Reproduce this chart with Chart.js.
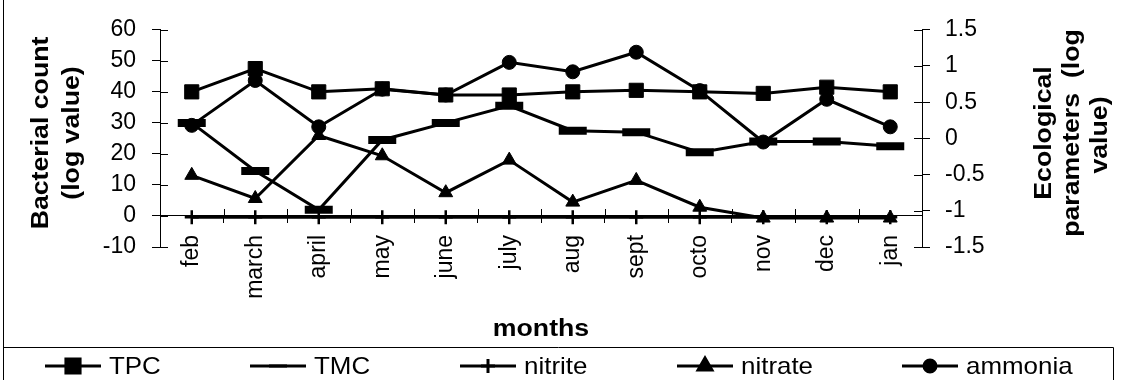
<!DOCTYPE html>
<html>
<head>
<meta charset="utf-8">
<script src="https://cdn.jsdelivr.net/npm/chart.js@4/dist/chart.umd.min.js"></script>
<style>
  body { margin: 0; background: #fff; }
  #wrap { width: 1122px; height: 380px; position: relative; }
</style>
</head>
<body>
<div id="wrap"><canvas id="chart"></canvas></div>
<script>
// months on the category axis
const months = ['feb', 'march', 'april', 'may', 'june', 'july', 'aug', 'sept', 'octo', 'nov', 'dec', 'jan'];

// left axis : bacterial count (log value)
const tpc = [40, 47.5, 40, 41, 39, 39, 40, 40.5, 40, 39.5, 41.5, 40];
const tmc = [30, 14.5, 2, 24.5, 30, 35.5, 27.5, 27, 20.5, 24, 24, 22.5];

// right axis : ecological parameters (log value)
const nitrite = [-1.09, -1.09, -1.09, -1.09, -1.09, -1.09, -1.09, -1.09, -1.09, -1.09, -1.09, -1.09];
const nitrate = [-0.51, -0.83, 0.04, -0.24, -0.75, -0.3, -0.88, -0.58, -0.95, -1.1, -1.1, -1.1];
const ammonia = [0.18, 0.8, 0.16, 0.68, 0.6, 1.05, 0.92, 1.19, 0.66, -0.05, 0.54, 0.16];

// axis ranges
const leftRange = [-10, 60, 10];
const rightRange = [-1.5, 1.5, 0.5];

const FONT = 'Liberation Sans, Arial, sans-serif';

// text stretched along its own direction
function stretchText(ctx, text, x, y, rot, sx) {
  ctx.save();
  ctx.translate(x, y);
  ctx.rotate(rot);
  ctx.scale(sx, 1);
  ctx.fillText(text, 0, 0);
  ctx.restore();
}

// cross ticks, axis titles, legend box
const decorPlugin = {
  id: 'decor',
  beforeDatasetsDraw(chart) {
    const { ctx, scales } = chart;
    const x = scales.x, y = scales.y, y1 = scales.y1;
    ctx.save();
    ctx.strokeStyle = '#000';
    ctx.lineWidth = 1;
    ctx.beginPath();
    // inner halves of y ticks
    y.ticks.forEach(t => {
      const py = Math.round(y.getPixelForValue(t.value)) + 0.5;
      ctx.moveTo(y.right, py); ctx.lineTo(y.right + 8, py);
    });
    y1.ticks.forEach(t => {
      const py = Math.round(y1.getPixelForValue(t.value)) + 0.5;
      ctx.moveTo(y1.left - 8, py); ctx.lineTo(y1.left, py);
    });
    // upper halves of category ticks
    const zero = Math.round(y.getPixelForValue(0));
    const half = (x.getPixelForValue(1) - x.getPixelForValue(0)) / 2;
    for (let i = 0; i <= months.length; i++) {
      const px = Math.round(x.getPixelForValue(i) - half) + 0.5;
      ctx.moveTo(px, zero - 7); ctx.lineTo(px, zero);
    }
    ctx.stroke();
    ctx.restore();
  },
  afterDraw(chart) {
    const { ctx, chartArea } = chart;
    ctx.save();
    ctx.fillStyle = '#000';
    ctx.textAlign = 'center';
    ctx.textBaseline = 'middle';

    // axis titles
    ctx.font = 'bold 23px ' + FONT;
    const cy = 133;
    stretchText(ctx, 'Bacterial count', 42, cy, -Math.PI / 2, 1.16);
    stretchText(ctx, '(log value)', 73, cy, -Math.PI / 2, 1.16);
    stretchText(ctx, 'Ecological', 1045, cy, -Math.PI / 2, 1.16);
    stretchText(ctx, 'parameters  (log', 1073, cy, -Math.PI / 2, 1.16);
    stretchText(ctx, 'value)', 1101, cy + 2, -Math.PI / 2, 1.16);
    stretchText(ctx, 'months', (chartArea.left + chartArea.right) / 2, 330, 0, 1.16);

    // outer frame (left edge only visible) and legend box
    ctx.strokeStyle = '#000';
    ctx.lineWidth = 1;
    ctx.beginPath();
    ctx.moveTo(3.5, 0); ctx.lineTo(3.5, 380);
    ctx.rect(3.5, 347.5, 1110, 50);
    ctx.stroke();

    // legend entries
    const starts = [45, 250, 460, 677, 902];
    const ly = 366;
    ctx.font = '24px ' + FONT;
    ctx.textAlign = 'left';
    chart.data.datasets.forEach((ds, i) => {
      const x0 = starts[i];
      ctx.strokeStyle = '#000';
      ctx.lineWidth = 3;
      ctx.beginPath();
      ctx.moveTo(x0, ly); ctx.lineTo(x0 + 56, ly);
      ctx.stroke();
      Chart.helpers.drawPoint(ctx, {
        pointStyle: ds.pointStyle,
        radius: ds.legendRadius,
        borderWidth: ds.legendBorder,
        rotation: 0
      }, x0 + 28, ly);
      ctx.fillStyle = '#000';
      ctx.save();
      ctx.translate(x0 + 64, ly + 1);
      ctx.scale(1.08, 1);
      ctx.fillText(ds.label, 0, 0);
      ctx.restore();
    });
    ctx.restore();
  }
};

function series(label, values, axis, style, radius, bw, legendRadius, legendBorder) {
  return {
    label: label,
    data: values,
    yAxisID: axis,
    borderColor: '#000',
    backgroundColor: '#000',
    borderWidth: 3,
    tension: 0,
    pointStyle: style,
    pointRadius: radius,
    pointHoverRadius: radius,
    pointBorderWidth: bw,
    pointBackgroundColor: '#000',
    pointBorderColor: '#000',
    legendRadius: legendRadius,
    legendBorder: legendBorder
  };
}

const tickFont = { family: FONT, size: 23 };

new Chart(document.getElementById('chart').getContext('2d'), {
  type: 'line',
  data: {
    labels: months,
    datasets: [
      series('TPC', tpc, 'y', 'rect', 10, 1, 10, 1),
      series('TMC', tmc, 'y', 'line', 14, 8, 9, 6),
      series('nitrite', nitrite, 'y1', 'cross', 7, 2.5, 7, 2.5),
      series('nitrate', nitrate, 'y1', 'triangle', 8, 1, 8, 1),
      series('ammonia', ammonia, 'y1', 'circle', 7, 1, 6, 1)
    ]
  },
  options: {
    responsive: true,
    maintainAspectRatio: false,
    animation: false,
    layout: { padding: { left: 0, right: 0, top: 26, bottom: 133 } },
    plugins: { legend: { display: false }, tooltip: { enabled: false } },
    scales: {
      x: {
        position: { y: 0 },
        offset: true,
        border: { display: true, color: '#000', width: 1 },
        grid: { display: true, drawOnChartArea: false, offset: true, tickLength: 7, color: '#000' },
        ticks: { color: '#000', font: tickFont, minRotation: 90, maxRotation: 90, autoSkip: false, padding: 12 }
      },
      y: {
        position: 'left',
        min: leftRange[0], max: leftRange[1],
        afterFit: s => { s.width = 160; },
        border: { display: true, color: '#000', width: 1 },
        grid: { display: true, drawOnChartArea: false, tickLength: 8, color: '#000' },
        ticks: { stepSize: leftRange[2], color: '#000', font: tickFont, padding: 16 }
      },
      y1: {
        position: 'right',
        min: rightRange[0], max: rightRange[1],
        afterFit: s => { s.width = 200; },
        border: { display: true, color: '#000', width: 1 },
        grid: { display: true, drawOnChartArea: false, tickLength: 8, color: '#000' },
        ticks: {
          stepSize: rightRange[2], color: '#000', font: tickFont, padding: 15,
          callback: v => String(Math.round(v * 10) / 10)
        }
      }
    }
  },
  plugins: [decorPlugin]
});
</script>
</body>
</html>
